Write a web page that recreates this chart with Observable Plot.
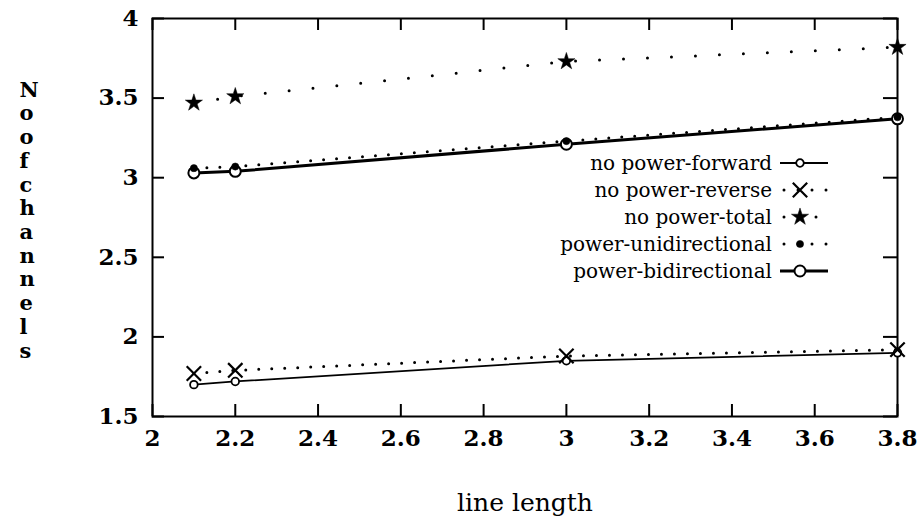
<!DOCTYPE html>
<html><head><meta charset="utf-8">
<script src="https://cdn.jsdelivr.net/npm/d3@7"></script>
<script src="https://cdn.jsdelivr.net/npm/@observablehq/plot@0.6"></script>
<style>body{margin:0;background:#fff} #chart{width:918px;height:521px}</style>
</head><body><div id="chart"></div>
<script>
// ---- data ----
const lineLength = [2.1, 2.2, 3, 3.8];
const noPowerForward = [1.70, 1.72, 1.85, 1.90];
const noPowerReverse = [1.77, 1.79, 1.88, 1.92];
const noPowerTotal = [3.47, 3.51, 3.73, 3.82];
const powerUnidirectional = [3.06, 3.07, 3.23, 3.38];
const powerBidirectional = [3.03, 3.04, 3.21, 3.37];
const seriesNames = ["no power-forward", "no power-reverse", "no power-total", "power-unidirectional", "power-bidirectional"];
const xTicks = [2, 2.2, 2.4, 2.6, 2.8, 3, 3.2, 3.4, 3.6, 3.8];
const yTicks = [1.5, 2, 2.5, 3, 3.5, 4];
const xLabel = "line length";
const yLabel = "Noofchannels";

// ---- styles ----
const styles = [
  {dash: null, lw: 1.8, symbol: "circle", r: 3.8, fill: "white", sw: 1.8},
  {dash: "0,13", lw: 3, symbol: "times", r: 6.6, fill: "none", sw: 2.2},
  {dash: "0,24", lw: 3, symbol: "star", r: 5.4, fill: "black", sw: 0.5},
  {dash: "0,13", lw: 3, symbol: "circle", r: 3.6, fill: "black", sw: 0.5},
  {dash: null, lw: 3, symbol: "circle", r: 5.5, fill: "white", sw: 2}
];
const allValues = [noPowerForward, noPowerReverse, noPowerTotal, powerUnidirectional, powerBidirectional];
const tables = allValues.map((vals, s) => lineLength.map((x, i) => ({x, y: vals[i], series: seriesNames[s]})));
const dotOrder = [0, 1, 2, 4, 3];

const W = 918, H = 521;
const mL = 152, mR = 21, mT = 18, mB = 105;
const fw = W - mL - mR, fh = H - mT - mB;
const font = "DejaVu Serif";

const marks = [];
tables.forEach((t, s) => {
  const st = styles[s];
  marks.push(Plot.line(t, {x: "x", y: "y", stroke: "black", strokeWidth: st.lw,
    strokeDasharray: st.dash || undefined, strokeLinecap: st.dash ? "round" : "butt"}));
});
dotOrder.forEach(s => {
  const st = styles[s];
  marks.push(Plot.dot(tables[s], {x: "x", y: "y", symbol: st.symbol, r: st.r, fill: st.fill, stroke: "black", strokeWidth: st.sw}));
});

const plot = Plot.plot({
  width: W, height: H,
  marginLeft: mL, marginRight: mR, marginTop: mT, marginBottom: mB,
  style: {fontFamily: font, fontSize: "23px", background: "white", color: "black"},
  x: {domain: [2, 3.8]},
  y: {domain: [1.5, 4]},
  marks: [
    Plot.frame({stroke: "black", strokeWidth: 2}),
    Plot.tickY(yTicks, {y: d => d, insetRight: fw - 12, strokeWidth: 2}),
    Plot.tickY(yTicks, {y: d => d, insetLeft: fw - 14, strokeWidth: 2}),
    Plot.tickX(xTicks, {x: d => d, insetTop: fh - 12, strokeWidth: 2}),
    Plot.tickX(xTicks, {x: d => d, insetBottom: fh - 12, strokeWidth: 2}),
    Plot.axisX(xTicks, {tickSize: 0, tickPadding: 13, fontSize: 23, fontWeight: "bold", label: null, tickFormat: d => String(d)}),
    Plot.axisY(yTicks, {tickSize: 0, tickPadding: 14, fontSize: 23, fontWeight: "bold", label: null, tickFormat: d => String(d)}),
    Plot.text([xLabel], {text: d => d, frameAnchor: "bottom", dy: 94, fontSize: 25}),
    Plot.text([yLabel.split("").join("\n")], {text: d => d, frameAnchor: "left", dx: -133, dy: 2, lineHeight: 1.13, fontSize: 21, fontWeight: "bold"}),
    ...marks
  ]
});
document.getElementById("chart").appendChild(plot);

// ---- legend ----
const svg = d3.select(plot);
const g = svg.append("g").attr("font-family", font).attr("font-size", 20);
seriesNames.forEach((name, i) => {
  const st = styles[i];
  const y = 163 + i * 27;
  g.append("text").attr("x", 772).attr("y", y).attr("dy", "0.35em").attr("text-anchor", "end").attr("fill", "black").text(name);
  const ln = g.append("line").attr("x1", 780).attr("x2", 828).attr("y1", y).attr("y2", y)
    .attr("stroke", "black").attr("stroke-width", st.lw);
  if (st.dash) ln.attr("stroke-dasharray", st.dash.replace(",24", ",16").replace(",13", ",14")).attr("stroke-linecap", "round").attr("x1", 784);
  const sym = {circle: d3.symbolCircle, times: d3.symbolTimes, star: d3.symbolStar}[st.symbol];
  g.append("path").attr("transform", `translate(800,${y})`)
    .attr("d", d3.symbol(sym, Math.PI * st.r * st.r)())
    .attr("fill", st.fill).attr("stroke", "black").attr("stroke-width", st.sw);
});
</script></body></html>
